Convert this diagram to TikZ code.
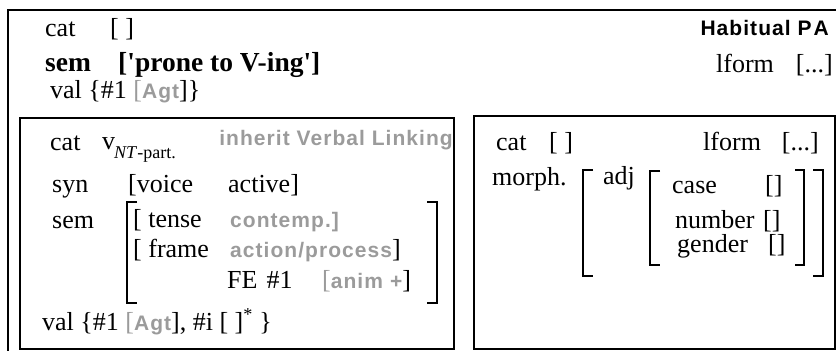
\documentclass[tikz,border=0pt]{standalone}
\usepackage{fontspec}
\setmainfont{Liberation Serif}
\newfontfamily\lsans[LetterSpace=5]{Liberation Sans}
\definecolor{txtgray}{RGB}{155,155,155}
\newcommand\gtx[1]{{\color{txtgray}\lsans\bfseries\fontsize{21}{24}\selectfont #1}}
\newcommand\gbr[1]{\textcolor{txtgray}{#1}}
\tikzset{
  frame/.style={draw=black, line width=1.4pt},
  brk/.style={draw=black, line width=1.4pt},
  t/.style={anchor=base west, inner sep=0pt, font=\fontsize{26}{30}\selectfont},
  te/.style={anchor=base east, inner sep=0pt, font=\fontsize{26}{30}\selectfont},
  tb/.style={t, font=\fontsize{27.5}{31}\selectfont\bfseries},
  sub/.style={anchor=base west, inner sep=0pt, font=\fontsize{18}{21}\selectfont},
}
\begin{document}
\begin{tikzpicture}[x=1pt, y=-1pt]
\useasboundingbox (0,0) rectangle (836,351);
\begin{scope}
\clip (0,0) rectangle (836,351);
% outer construction box
\draw[frame] (8,10) rectangle (845,360);
\end{scope}
% inner boxes
\draw[frame] (20,118) rectangle (454,349);
\draw[frame] (474,116) rectangle (835,349);

% header of the construction
\node[t] (cat0) at (45,36) {cat};
\node[t] (catv0) at (110,36) {[ ]};
\node[tb] (sem0) at (45,71) {sem};
\node[tb] (semv0) at (118,71) {[\textquotesingle prone to V-ing\textquotesingle]};
\node[t] (val0) at (50,98) {val \{\#1 \gbr{[}\gtx{Agt}]\}};
\node[anchor=base east, inner sep=0pt, font=\lsans\bfseries\fontsize{21}{24}\selectfont] (name) at (829,35) {Habitual P\hspace{2pt}A};
\node[t] (lform0) at (716,72) {lform};
\node[te] (lformv0) at (833,72) {[...]};

% verbal daughter
\node[t] (cat1) at (50,150) {cat};
\node[t] (v1) at (102,149) {v};
\node[sub] (v1sub) at (114,158) {\textit{NT}-part.};
\node[anchor=base east, inner sep=0pt] (inh) at (453,145) {\gtx{inherit Verbal Linking}};
\node[t] (syn1) at (52,192) {syn};
\node[t] (voice1) at (128,192) {[voice};
\node[t] (active1) at (228,192) {active]};
\node[t] (sem1) at (52,228) {sem};
\node[t] (tense1) at (133,227) {[ tense};
\node[t] (contemp1) at (230,227) {\gtx{contemp.]}};
\node[t] (frame1) at (133,257) {[ frame};
\node[t] (action1) at (230,257) {\gtx{action/process}]};
\node[t] (fe1) at (227,288) {FE\hspace{9pt}\#1};
\node[t] (anim1) at (322,288) {\gbr{[}\gtx{anim\hspace{7pt}+}]};
\node[t] (val1) at (42,330) {val \{\#1 \gbr{[}\gtx{Agt}], \#i [ ]\textsuperscript{*} \}};
% sem brackets
\draw[brk] (137,202) -- (127,202) -- (127,303) -- (137,303);
\draw[brk] (427,202) -- (437,202) -- (437,303) -- (427,303);

% adjectival daughter
\node[t] (cat2) at (496,150) {cat};
\node[t] (catv2) at (549,150) {[ ]};
\node[t] (lform2) at (703,150) {lform};
\node[te] (lformv2) at (819,150) {[...]};
\node[t] (morph2) at (492,185) {morph.};
\node[t] (adj2) at (603,184) {adj};
\node[t] (case2) at (672,193) {case};
\node[t] (casev2) at (765,193) {[]};
\node[t] (num2) at (675,228) {number};
\node[t] (numv2) at (763,228) {[]};
\node[t] (gen2) at (677,252) {gender};
\node[t] (genv2) at (768,252) {[]};
\draw[brk] (593,170) -- (583,170) -- (583,276) -- (593,276);
\draw[brk] (660,171) -- (650,171) -- (650,265) -- (660,265);
\draw[brk] (795,170) -- (804,170) -- (804,265) -- (795,265);
\draw[brk] (813,170) -- (823,170) -- (823,276) -- (813,276);
\end{tikzpicture}
\end{document}
